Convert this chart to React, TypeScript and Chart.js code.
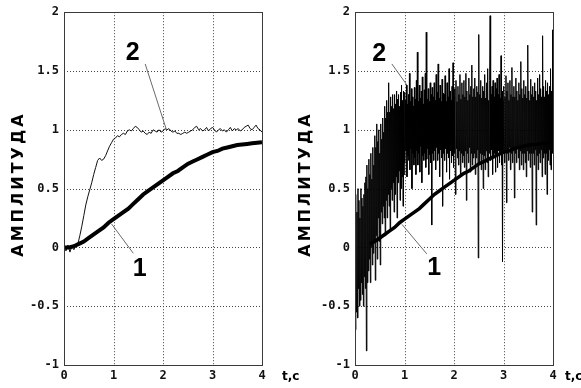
import React, { useEffect, useRef } from 'react';
import { Chart, registerables } from 'chart.js';

Chart.register(...registerables);

// ---------- data ----------
const X_TICKS = [0, 1, 2, 3, 4];
const Y_TICKS = [-1, -0.5, 0, 0.5, 1, 1.5, 2];
const Y_TITLE = 'АМПЛИТУДА';
const X_UNIT = 't,c';

// curve 1 (thick, slow response), sampled every 0.1 s
const CURVE1_DT = 0.1;
const curve1 = [
  0.0, 0.0, 0.01, 0.03, 0.05, 0.08, 0.11, 0.14, 0.17, 0.21,
  0.24, 0.27, 0.3, 0.33, 0.37, 0.41, 0.45, 0.48, 0.51, 0.54,
  0.57, 0.6, 0.63, 0.65, 0.68, 0.71, 0.73, 0.75, 0.77, 0.79,
  0.81, 0.82, 0.84, 0.85, 0.86, 0.87, 0.875, 0.88, 0.885, 0.89,
  0.895,
];
// first visible sample of curve 1 in the right panel (t = 0.3 s)
const RIGHT_CURVE1_START = 3;

// curve 2, left panel (fast response, light noise), sampled every 0.04 s
const CURVE2_DT = 0.04;
const curve2Left = [
  0.0, -0.03, 0.02, -0.04, 0.01, -0.02, 0.02, 0.03, 0.1, 0.18,
  0.27, 0.36, 0.43, 0.49, 0.55, 0.62, 0.68, 0.74, 0.76, 0.74,
  0.75, 0.78, 0.82, 0.86, 0.89, 0.92, 0.93, 0.95, 0.94, 0.96,
  0.97, 0.96, 0.99, 1.0, 0.99, 1.01, 1.03, 1.02, 1.0, 0.98,
  0.99, 0.97, 0.96, 0.98, 0.97, 1.0, 0.99, 0.98, 1.0, 0.98,
  0.99, 1.01, 1.0, 1.01, 0.99, 0.98, 0.99, 0.97, 0.97, 0.96,
  0.97, 0.98, 0.97, 0.98, 0.99, 1.0, 1.02, 1.03, 1.0, 1.01,
  0.99, 1.0, 1.02, 0.99, 1.01, 1.02, 1.0, 0.98, 1.0, 1.01,
  0.99, 1.0, 0.98, 1.0, 1.02, 0.99, 1.01, 1.0, 1.01, 0.99,
  1.0, 1.02, 1.03, 1.04, 1.01, 1.0, 1.02, 1.04, 1.01, 1.0,
  0.98,
];

// curve 2, right panel (heavy noise), sampled every 0.01 s
const NOISE_DT = 0.01;
const curve2Right = [
  0.1, -0.7, 0.45, -0.55, 0.3, -0.6, 0.5, -0.35, 0.4, -0.5, 0.25, -0.45, 0.5, -0.3, 0.42, -0.4, 0.35, -0.5, 0.45, -0.25,
  0.55, -0.35, 0.6, -0.88, 0.7, -0.3, 0.5, -0.2, 0.75, -0.1, 0.62, -0.3, 0.8, 0.0, 0.58, -0.15, 0.85, -0.05, 0.7, 0.05,
  0.95, -0.28, 0.85, 0.1, 1.05, -0.1, 0.9, 0.25, 1.0, 0.05, 0.8, -0.15, 1.05, 0.3, 0.92, 0.2, 1.1, 0.35, 0.98, 0.25,
  1.2, 0.1, 1.1, 0.4, 1.25, 0.25, 1.15, 0.45, 1.4, 0.35, 1.15, 0.15, 1.28, 0.5, 1.2, 0.4, 1.3, 0.55, 1.18, 0.3,
  1.3, 0.45, 1.22, 0.6, 1.33, 0.25, 1.26, 0.55, 1.3, 0.65, 1.2, 0.4, 1.32, 0.5, 1.38, 0.6, 1.25, 0.35, 1.33, 0.62,
  1.32, 0.72, 1.25, 0.82, 1.38, 0.6, 1.22, 0.78, 1.3, 0.74, 1.48, 0.66, 1.24, 0.84, 1.35, 0.5, 1.28, 0.8, 1.2, 0.7,
  1.36, 0.76, 1.26, 0.62, 1.42, 0.82, 1.66, 0.7, 1.24, 0.8, 1.38, 0.64, 1.27, 0.86, 1.33, 0.55, 1.45, 0.78, 1.22, 0.74,
  1.34, 0.8, 1.48, 0.68, 1.83, 0.75, 1.26, 0.84, 1.35, 0.62, 1.24, 0.79, 1.4, 0.72, 1.3, 0.19, 1.36, 0.8, 1.28, 0.74,
  1.4, 0.82, 1.25, 0.66, 1.47, 0.85, 1.32, 0.74, 1.56, 0.8, 1.27, 0.6, 1.38, 0.83, 1.24, 0.76, 1.43, 0.35, 1.31, 0.8,
  1.3, 0.74, 1.46, 0.84, 1.24, 0.64, 1.4, 0.8, 1.28, 0.76, 1.52, 0.58, 1.33, 0.82, 1.25, 0.72, 1.37, 0.78, 1.57, 0.68,
  1.28, 0.8, 1.35, 0.45, 1.42, 0.84, 1.24, 0.76, 1.37, 0.7, 1.3, 0.82, 1.47, 0.6, 1.26, 0.8, 1.4, 0.72, 1.3, 0.78,
  1.42, 0.68, 1.28, 0.82, 1.48, 0.4, 1.33, 0.8, 1.25, 0.72, 1.44, 0.85, 1.3, 0.64, 1.37, 0.8, 1.55, 0.7, 1.28, 0.76,
  1.35, 0.8, 1.44, 0.62, 1.28, 0.76, 1.37, 0.83, 1.32, -0.09, 1.81, 0.72, 1.3, 0.8, 1.42, 0.66, 1.27, 0.79, 1.37, 0.5,
  1.33, 0.78, 1.47, 0.66, 1.27, 0.82, 1.4, 0.72, 1.52, 0.6, 1.25, 0.8, 1.42, 1.97, 0.74, 1.3, 0.83, 1.37, 0.62, 1.42,
  0.76, 1.28, 0.8, 1.4, 0.64, 1.35, 0.78, 1.44, 0.68, 1.3, 0.82, 1.47, 0.72, 1.27, 0.8, 1.63, 0.7, 1.33, -0.12, 1.25,
  0.8, 1.37, 0.72, 1.28, 0.83, 1.46, 0.38, 1.33, 0.8, 1.4, 0.74, 1.25, 0.85, 1.42, 0.66, 1.3, 0.8, 1.53, 0.72, 1.28,
  0.82, 1.37, 0.42, 1.28, 0.8, 1.44, 0.72, 1.33, 0.84, 1.25, 0.76, 1.4, 0.66, 1.3, 0.82, 1.58, 0.7, 1.35, 0.8, 1.27,
  0.66, 1.42, 0.8, 1.3, 0.72, 1.37, 0.6, 1.27, 0.82, 1.72, 0.74, 1.33, 0.8, 1.25, 0.68, 1.43, 0.8, 1.3, 0.3, 1.37,
  0.8, 1.28, 0.7, 1.4, 0.83, 1.33, 0.19, 1.25, 0.78, 1.44, 0.66, 1.3, 0.8, 1.47, 0.72, 1.35, 0.83, 1.28, 0.6, 1.8,
  0.76, 1.37, 0.8, 1.28, 0.62, 1.42, 0.8, 1.33, 0.45, 1.4, 0.74, 1.3, 0.83, 1.37, 0.7, 1.52, 0.66, 1.33, 0.8, 1.85,
  0.95,
];

// curve labels (text, t, amplitude) and leader lines [t1, v1, t2, v2]
const LEFT_LABELS = [
  { text: '2', t: 1.39, v: 1.67 },
  { text: '1', t: 1.53, v: -0.17 },
];
const LEFT_LEADERS = [
  [1.64, 1.56, 2.07, 1.0],
  [0.96, 0.2, 1.4, -0.05],
];
const RIGHT_LABELS = [
  { text: '2', t: 0.49, v: 1.66 },
  { text: '1', t: 1.6, v: -0.16 },
];
const RIGHT_LEADERS = [
  [0.745, 1.56, 1.05, 1.38],
  [0.95, 0.195, 1.45, -0.055],
];

// ---------- helpers ----------
const toPoints = (arr: number[], dt: number, start = 0) =>
  arr
    .map((v, i) => ({ x: Math.round(i * dt * 1000) / 1000, y: v }))
    .slice(start);

const leaderSets = (leaders: number[][]) =>
  leaders.map((l) => ({
    data: [
      { x: l[0], y: l[1] },
      { x: l[2], y: l[3] },
    ],
    borderColor: '#6a6a6a',
    borderWidth: 1,
    pointRadius: 0,
    showLine: true,
    order: 0,
  }));

const TICK_FONT = { family: "'DejaVu Sans Mono', monospace", size: 12, weight: 'bold' as const };

const panelPlugin = {
  id: 'panelDeco',
  beforeDatasetsDraw(chart: any) {
    const { ctx, chartArea: a, scales } = chart;
    const x = scales.x;
    const y = scales.y;
    ctx.save();
    ctx.strokeStyle = '#444';
    ctx.lineWidth = 1;
    ctx.setLineDash([1, 2]);
    X_TICKS.slice(1, -1).forEach((t) => {
      const px = Math.round(x.getPixelForValue(t)) + 0.5;
      ctx.beginPath();
      ctx.moveTo(px, a.top);
      ctx.lineTo(px, a.bottom);
      ctx.stroke();
    });
    Y_TICKS.slice(1, -1).forEach((v) => {
      const py = Math.round(y.getPixelForValue(v)) + 0.5;
      ctx.beginPath();
      ctx.moveTo(a.left, py);
      ctx.lineTo(a.right, py);
      ctx.stroke();
    });
    ctx.restore();
  },
  afterDatasetsDraw(chart: any, _args: any, opts: any) {
    const { ctx, chartArea: a, scales } = chart;
    const x = scales.x;
    const y = scales.y;
    ctx.save();
    // box
    ctx.strokeStyle = '#3a3a3a';
    ctx.lineWidth = 1;
    ctx.setLineDash([]);
    ctx.strokeRect(Math.round(a.left) + 0.5, Math.round(a.top) + 0.5, Math.round(a.right - a.left), Math.round(a.bottom - a.top));

    // curve labels
    ctx.fillStyle = '#000';
    ctx.font = "bold 25px 'Liberation Sans', Arial, sans-serif";
    ctx.textAlign = 'center';
    ctx.textBaseline = 'alphabetic';
    (opts.labels || []).forEach((l: any) => {
      ctx.fillText(l.text, x.getPixelForValue(l.t), y.getPixelForValue(l.v) + 9);
    });

    // unit label "t,c"
    ctx.font = "bold 12px 'DejaVu Sans', sans-serif";
    ctx.textAlign = 'left';
    ctx.textBaseline = 'middle';
    ctx.fillText(X_UNIT, a.right + opts.unitOffset, a.bottom + 12);

    // y title, rotated, with letter spacing
    ctx.translate(a.left + opts.titleOffset, (a.top + a.bottom) / 2 - 3);
    ctx.rotate(-Math.PI / 2);
    ctx.font = "bold 16px 'DejaVu Sans', sans-serif";
    ctx.textBaseline = 'middle';
    ctx.textAlign = 'left';
    const chars = Array.from(Y_TITLE);
    const spacing = 3;
    const widths = chars.map((c) => ctx.measureText(c).width);
    const total = widths.reduce((s, w) => s + w, 0) + spacing * (chars.length - 1);
    let cx = -total / 2;
    chars.forEach((c, i) => {
      ctx.fillText(c, cx, 0);
      cx += widths[i] + spacing;
    });
    ctx.restore();
  },
};

function Panel(props: { left: number; width: number; rightPad: number; datasets: any[]; deco: any }) {
  const ref = useRef<HTMLCanvasElement>(null);
  useEffect(() => {
    const chart = new Chart(ref.current as HTMLCanvasElement, {
      type: 'scatter',
      data: { datasets: props.datasets },
      options: {
        animation: false,
        responsive: false,
        events: [],
        layout: { padding: { left: 0, top: 7, right: props.rightPad, bottom: 0 } },
        plugins: {
          legend: { display: false },
          tooltip: { enabled: false },
          panelDeco: props.deco,
        } as any,
        scales: {
          x: {
            type: 'linear',
            min: 0,
            max: 4,
            afterBuildTicks: (s: any) => {
              s.ticks = X_TICKS.map((v) => ({ value: v }));
            },
            afterFit: (s: any) => {
              s.height = 23;
            },
            ticks: { font: TICK_FONT, color: '#111', padding: 4, maxRotation: 0, callback: (v: any) => String(v) },
            grid: { display: false, drawTicks: false },
            border: { display: false },
          },
          y: {
            type: 'linear',
            min: -1,
            max: 2,
            afterBuildTicks: (s: any) => {
              s.ticks = Y_TICKS.map((v) => ({ value: v }));
            },
            afterFit: (s: any) => {
              s.width = 64;
            },
            ticks: { font: TICK_FONT, color: '#111', padding: 5, callback: (v: any) => String(v) },
            grid: { display: false, drawTicks: false },
            border: { display: false },
          },
        },
      } as any,
      plugins: [panelPlugin],
    });
    return () => chart.destroy();
  }, []);
  return (
    <canvas
      ref={ref}
      width={props.width}
      height={388}
      style={{ position: 'absolute', left: props.left, top: 0, width: props.width, height: 388 }}
    />
  );
}

export default function App() {
  useEffect(() => {
    document.body.style.margin = '0';
  }, []);

  const leftSets = [
    {
      data: toPoints(curve1, CURVE1_DT),
      borderColor: '#000',
      borderWidth: 4,
      pointRadius: 0,
      showLine: true,
      order: 1,
    },
    {
      data: toPoints(curve2Left, CURVE2_DT),
      borderColor: '#111',
      borderWidth: 1,
      pointRadius: 0,
      showLine: true,
      order: 2,
    },
    ...leaderSets(LEFT_LEADERS),
  ];

  const rightSets = [
    {
      data: toPoints(curve1, CURVE1_DT, RIGHT_CURVE1_START),
      borderColor: '#000',
      borderWidth: 3.5,
      pointRadius: 0,
      showLine: true,
      order: 1,
    },
    {
      data: toPoints(curve2Right, NOISE_DT),
      borderColor: '#000',
      borderWidth: 1,
      pointRadius: 0,
      showLine: true,
      order: 2,
    },
    ...leaderSets(RIGHT_LEADERS),
  ];

  return (
    <div style={{ position: 'relative', width: 581, height: 388, background: '#fff', overflow: 'hidden' }}>
      <Panel
        left={0}
        width={310}
        rightPad={48}
        datasets={leftSets}
        deco={{ labels: LEFT_LABELS, unitOffset: 20, titleOffset: -45 }}
      />
      <Panel
        left={291}
        width={290}
        rightPad={28}
        datasets={rightSets}
        deco={{ labels: RIGHT_LABELS, unitOffset: 12, titleOffset: -49 }}
      />
    </div>
  );
}
